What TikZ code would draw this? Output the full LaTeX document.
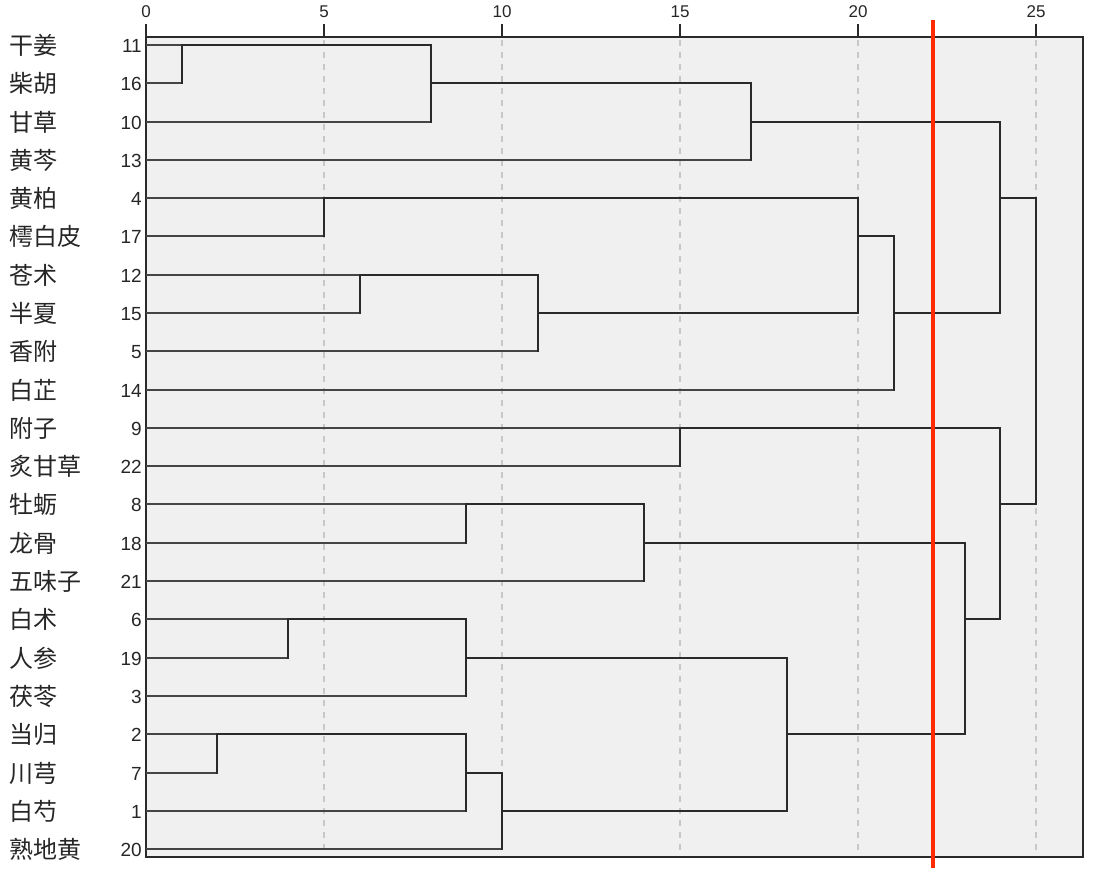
\documentclass[tikz,border=0pt]{standalone}
\usepackage{fontspec}
\setmainfont{Liberation Sans}
\newfontfamily\cjk{Noto Sans CJK SC}
\definecolor{boxbg}{HTML}{F0F0F0}
\definecolor{gridc}{HTML}{C8C8C8}
\definecolor{linec}{HTML}{2A2A2A}
\definecolor{leafc}{HTML}{454545}
\definecolor{cutred}{HTML}{FF2A00}
\newcommand{\mkpt}[3]{\coordinate (#1) at ({round(146+35.6*#2)},{round(6.71+38.29*#3)});}
\begin{document}
\begin{tikzpicture}[x=1pt,y=-1pt,
  frame/.style={draw=linec, line width=1.8pt, fill=boxbg},
  gridline/.style={draw=gridc, line width=1.3pt, dash pattern=on 6pt off 6pt},
  link/.style={draw=linec, line width=2pt, line cap=rect},
  leafline/.style={draw=leafc, line width=2pt},
  cutline/.style={draw=cutred, line width=3.8pt},
  herb/.style={font=\cjk\fontsize{24}{24}\selectfont, anchor=west, text=black!85, inner sep=0pt},
  num/.style={font=\fontsize{19}{19}\selectfont, anchor=east, text=black!85, inner sep=0pt},
  ticklab/.style={font=\fontsize{17}{17}\selectfont, text=black!85, inner sep=0pt},
  tickmark/.style={draw=linec, line width=1.8pt}]
\useasboundingbox (0,0) rectangle (1093,868);
% frame
\draw[frame] (146,37) rectangle (1083,857);
% grid and ticks
\foreach \v in {5,10,15,20,25}{
  \draw[gridline] ({round(146+35.6*\v)},40) -- ({round(146+35.6*\v)},855);
}
\foreach \v in {0,5,10,15,20,25}{
  \draw[tickmark] ({round(146+35.6*\v)},24) -- ({round(146+35.6*\v)},37);
  \node[ticklab] (t\v) at ({round(146+35.6*\v)},12) {\v};
}
% leaves
\foreach \h/\n [count=\i] in {干姜/11,柴胡/16,甘草/10,黄芩/13,黄柏/4,樗白皮/17,苍术/12,半夏/15,香附/5,白芷/14,附子/9,炙甘草/22,牡蛎/8,龙骨/18,五味子/21,白术/6,人参/19,茯苓/3,当归/2,川芎/7,白芍/1,熟地黄/20}{
  \node[herb] (h\i) at (9,{round(6.71+38.29*\i)}) {\h};
  \node[num] (n\i) at (142,{round(6.71+38.29*\i)+1}) {\n};
  \coordinate (l\i) at (146,{round(6.71+38.29*\i)});
}
% cluster points
\mkpt{cA}{1}{1}
\mkpt{cB}{8}{2}
\mkpt{cC}{17}{3}
\mkpt{cD}{5}{5}
\mkpt{cE}{6}{7}
\mkpt{cF}{11}{8}
\mkpt{cG}{20}{6}
\mkpt{cH}{21}{8}
\mkpt{cI}{24}{5}
\mkpt{cJ}{15}{11}
\mkpt{cK}{9}{13}
\mkpt{cL}{14}{14}
\mkpt{cM}{4}{16}
\mkpt{cN}{9}{17}
\mkpt{cO}{2}{19}
\mkpt{cP}{9}{20}
\mkpt{cQ}{10}{21}
\mkpt{cR}{18}{19}
\mkpt{cS}{23}{16}
\mkpt{cT}{24}{13}
\mkpt{cU}{25}{9}
% leaf horizontals
\foreach \a/\p in {l1/cA,l2/cA,l3/cB,l4/cC,l5/cD,l6/cD,l7/cE,l8/cE,l9/cF,l10/cH,l11/cJ,l12/cJ,l13/cK,l14/cK,l15/cL,l16/cM,l17/cM,l18/cN,l19/cO,l20/cO,l21/cP,l22/cQ}{
  \draw[leafline] (\a) -- (\a -| \p);
}
% cluster horizontals
\foreach \a/\p in {cA/cB,cB/cC,cC/cI,cD/cG,cE/cF,cF/cG,cG/cH,cH/cI,cI/cU,cJ/cT,cK/cL,cL/cS,cM/cN,cN/cR,cO/cP,cP/cQ,cQ/cR,cR/cS,cS/cT,cT/cU}{
  \draw[link] (\a) -- (\a -| \p);
}
% verticals
\foreach \m/\a/\b in {cA/l1/l2,cB/cA/l3,cC/cB/l4,cD/l5/l6,cE/l7/l8,cF/cE/l9,cG/cD/cF,cH/cG/l10,cI/cC/cH,cJ/l11/l12,cK/l13/l14,cL/cK/l15,cM/l16/l17,cN/cM/l18,cO/l19/l20,cP/cO/l21,cQ/cP/l22,cR/cN/cQ,cS/cL/cR,cT/cJ/cS,cU/cI/cT}{
  \draw[link] (\a -| \m) -- (\b -| \m);
}
% cut line
\draw[cutline] ({146+35.6*22.1},20) -- ({146+35.6*22.1},868);
\end{tikzpicture}
\end{document}
